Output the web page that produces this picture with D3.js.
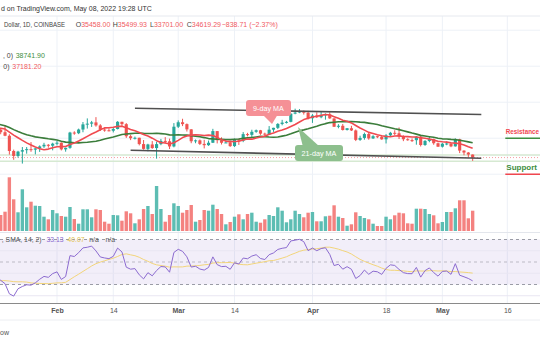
<!DOCTYPE html>
<html><head><meta charset="utf-8">
<script src="https://cdn.jsdelivr.net/npm/d3@7"></script>
<style>html,body{margin:0;padding:0;background:#fff;}svg{display:block;font-family:"Liberation Sans",Arial,sans-serif;}</style>
</head><body><svg id="c" width="540" height="340"></svg>
<script>
// ---------- data ----------
const historyStart = "2021-12-01";
const historyCloses = [57230,56510,53600,49200,49400,50590,50570,50500,47560,47140,49390,50090,46700,48340,48870,47630,46200,46870,46700,46900,48930,48620,50820,50820,50430,50810,50700,47540,46460,47140,46210,
47730,47300,46440,45830,43430,43090,41550,41680,41860,41830,42740,43920,42590,43080,43180,43110,42200];
const candleStart = "2022-01-18";
const opens = [42200,42370,41660,40680,36450,35070,36280,36680,36960,36820,37170,37720,38170,37920,
38480,38740,36900,37330,41570,41380,42410,43840,44040,44390,43550,42400,42200,42070,42550,44560,43900,40550,40000,40120,38370,37030,38260,37260,38360,39250,39150,37710,
43190,44430,43910,42460,39150,39400,38420,38060,38740,41970,39440,38730,38820,37800,39670,39300,41130,40930,41780,42200,41270,41020,42370,42880,43960,44330,44540,46820,47130,47450,47080,
45540,46300,45820,46400,46620,45500,43180,43450,42280,42770,42160,39530,40080,41150,39940,40550,40380,39680,40800,41500,41370,40480,39710,39470,39450,40430,38110,39240,39740,38600,
37640,38470,38530,37730,39700,36550,36020,35458];
const highs = [42690,42560,43500,41100,36830,36500,37550,37540,38920,37230,38000,38720,38360,38740,
39250,38850,37400,41770,41930,42660,44500,45500,44800,45850,43900,43000,42750,42870,44750,44560,44200,40950,40450,40140,39500,38450,39200,39000,39800,40300,39880,44200,
44950,45400,44100,42500,39640,39650,39550,39340,42600,42000,40250,39460,39300,39900,39880,41700,41490,42350,42400,42300,41530,43370,42900,44200,45100,44800,46950,48200,48100,47700,47600,
46700,47200,47440,46880,47200,45500,43900,43960,42800,43430,42420,40690,41550,41500,40850,40700,40600,41130,41760,42200,42980,40800,39990,39950,40600,40800,39470,40380,39900,38800,
38700,39150,38630,39950,39850,36650,36150,35499.93];
const lows = [41250,41100,40550,35440,34010,34600,32950,35700,36230,35510,36200,37300,37360,36630,
38000,36600,36250,37060,40950,41130,41650,42670,43130,43200,42000,41800,41900,41600,42440,43330,40080,39470,39640,38000,36810,36350,37050,34320,38050,38600,37000,37460,
42830,43360,41850,38600,38600,38100,37160,37870,38660,38550,38250,38670,37590,37580,38120,38900,40500,40200,41500,40930,40500,40880,41750,42550,43580,44080,44420,46650,46950,46560,45200,
44250,45620,45550,45150,45380,43140,42750,42130,42130,42000,39200,39250,39580,39570,39780,40020,39560,38540,40570,40830,39770,39180,39300,38950,38200,37700,37870,38880,38180,37600,
37400,38050,37500,37670,35860,35260,34800,33701];
const closes = [42370,41660,40680,36450,35070,36280,36680,36960,36820,37170,37720,38170,37920,38480,
38740,36900,37330,41570,41380,42410,43840,44040,44390,43550,42400,42200,42070,42550,44560,43900,40550,40000,40120,38370,37030,38260,37260,38360,39250,39150,37710,43190,
44430,43910,42460,39150,39400,38420,38060,38740,41970,39440,38730,38820,37800,39670,39300,41130,40930,41780,42200,41270,41020,42370,42880,43960,44330,44540,46820,47130,47450,47080,45540,
46300,45820,46400,46620,45500,43180,43450,42280,42770,42160,39530,40080,41150,39940,40550,40380,39680,40800,41500,41370,40480,39710,39470,39450,40430,38110,39240,39740,38600,37640,
38470,38530,37730,39700,36550,36020,35460,34619.29];
const volumes = [18000,16000,19300,53700,31700,18700,41700,23700,29300,25300,25000,14300,11700,21000,
17700,15000,14300,24000,12000,7300,21700,21700,13700,21700,21000,9300,7300,16000,15700,10300,19700,17700,7700,11700,22000,25000,17000,45000,22000,9300,16000,27700,
25000,18300,21000,26000,9300,11000,21000,20300,26300,22000,17000,6700,9000,14300,16700,11700,17000,18300,9300,8300,11700,16000,15000,23700,20300,8700,11700,20300,17000,13700,18300,
19000,9700,9700,14700,15300,25700,14300,13000,5300,6700,18700,15000,13000,11700,7300,5000,5000,14300,11700,15700,18300,17700,7700,7300,22300,22300,22000,17000,15700,7700,
9000,19000,19000,22700,30700,30700,12700,20300];
const tickDates = ["2022-02-01","2022-02-14","2022-03-01","2022-03-14","2022-04-01","2022-04-18","2022-05-01","2022-05-16"];
const priceGrid = [30000,40000,50000,60000,70000];
const rsiGrid = [20,40,60];
const rsiBands = [70,50,30];
const channelUpper = [["2022-02-19",48300],["2022-05-10",46600]];
const channelLower = [["2022-02-18",36650],["2022-05-10",34420]];
const zoneLevels = [35350,33600];
const resistanceLevel = 40000, supportLevel = 30000;
const maFastLen = 9, maSlowLen = 21, rsiLen = 14, rsiMaLen = 14;

// ---------- scales ----------
const parse = d3.utcParse("%Y-%m-%d");
const svg = d3.select("#c");
const W = 540;
const x = d3.scaleUtc().domain([parse("2022-01-19"), parse("2022-05-16")]).range([0.7, 507.3]);
const y = d3.scaleLinear().domain([30000, 70000]).range([174.2, 30.2]);
const yVol = d3.scaleLinear().domain([0, 60000]).range([231, 171]);
const yRsi = d3.scaleLinear().domain([30, 70]).range([284.5, 239.5]);
const dayW = x(parse("2022-01-20")) - x(parse("2022-01-19"));

const t0 = parse(candleStart);
const dates = closes.map((_, i) => d3.utcDay.offset(t0, i));
const histDates = historyCloses.map((_, i) => d3.utcDay.offset(parse(historyStart), i));
const allDates = histDates.concat(dates);
const allCloses = historyCloses.concat(closes);

function sma(arr, n) {
  return arr.map((v, i) => {
    if (i < n - 1) return null;
    const s = arr.slice(i - n + 1, i + 1);
    if (s.some(a => a == null)) return null;
    return d3.mean(s);
  });
}
function rsi(arr, n) {
  const out = arr.map(() => null);
  let g = 0, l = 0;
  for (let i = 1; i <= n; i++) { const d = arr[i] - arr[i - 1]; if (d > 0) g += d; else l -= d; }
  g /= n; l /= n; out[n] = 100 - 100 / (1 + g / l);
  for (let i = n + 1; i < arr.length; i++) {
    const d = arr[i] - arr[i - 1];
    g = (g * (n - 1) + Math.max(d, 0)) / n; l = (l * (n - 1) + Math.max(-d, 0)) / n;
    out[i] = l === 0 ? 100 : 100 - 100 / (1 + g / l);
  }
  return out;
}
const maFast = sma(allCloses, maFastLen);
const maSlow = sma(allCloses, maSlowLen);
const rsiV = rsi(allCloses, rsiLen);
const rsiMa = sma(rsiV, rsiMaLen);
const firstVis = histDates.length - 2;
const visIdx = d3.range(firstVis, allDates.length);

// ---------- backdrop ----------
svg.append("rect").attr("width", W).attr("height", 340).attr("fill", "#fff");
svg.append("g").selectAll("line").data(tickDates).join("line")
  .attr("x1", d => x(parse(d))).attr("x2", d => x(parse(d)))
  .attr("y1", 16).attr("y2", 303).attr("stroke", "#edf1f7").attr("stroke-width", 1);
svg.append("g").selectAll("line").data(priceGrid).join("line")
  .attr("x1", 0).attr("x2", W).attr("y1", d => y(d)).attr("y2", d => y(d))
  .attr("stroke", "#edf1f7");
svg.append("line").attr("x1", 0).attr("x2", W).attr("y1", 16).attr("y2", 16).attr("stroke", "#e6e9ef");

// RSI panel
svg.append("rect").attr("x", 0).attr("width", W).attr("y", yRsi(70)).attr("height", yRsi(30) - yRsi(70))
  .attr("fill", "rgba(126,87,194,0.1)");
svg.append("g").selectAll("line").data(rsiGrid).join("line")
  .attr("x1", 0).attr("x2", W).attr("y1", d => yRsi(d)).attr("y2", d => yRsi(d)).attr("stroke", "#e9e6f2");
svg.append("line").attr("x1", 0).attr("x2", W).attr("y1", 232.5).attr("y2", 232.5).attr("stroke", "#e3e6ec");
svg.append("g").selectAll("line").data(rsiBands).join("line")
  .attr("x1", 0).attr("x2", W).attr("y1", d => yRsi(d)).attr("y2", d => yRsi(d))
  .attr("stroke", d => d === 50 ? "rgba(120,123,134,0.45)" : "#9a9ca6").attr("stroke-dasharray", "3,3");

// zone lines and current price line
svg.append("g").selectAll("line").data(zoneLevels).join("line")
  .attr("x1", 0).attr("x2", W).attr("y1", d => y(d)).attr("y2", d => y(d))
  .attr("stroke", "#d6e9d2").attr("stroke-width", 1.5);
svg.append("line").attr("x1", 0).attr("x2", W).attr("y1", y(closes[closes.length - 1])).attr("y2", y(closes[closes.length - 1]))
  .attr("stroke", "#f59ea3").attr("stroke-dasharray", "1,2");

// ---------- volume ----------
const up = i => closes[i] >= opens[i];
const bw = dayW * 0.78;
svg.append("g").selectAll("rect").data(dates).join("rect")
  .attr("x", d => x(d) - bw / 2).attr("width", bw)
  .attr("y", (d, i) => yVol(volumes[i])).attr("height", (d, i) => yVol(0) - yVol(volumes[i]))
  .attr("fill", (d, i) => up(i) ? "#5dbdb3" : "#f48280");

// ---------- candles ----------
const cg = svg.append("g");
cg.selectAll("line").data(dates).join("line")
  .attr("x1", d => x(d)).attr("x2", d => x(d))
  .attr("y1", (d, i) => y(highs[i])).attr("y2", (d, i) => y(lows[i]))
  .attr("stroke", (d, i) => up(i) ? "#26a69a" : "#ef5350").attr("stroke-width", 1);
const cw = dayW * 0.72;
cg.selectAll("rect").data(dates).join("rect")
  .attr("x", d => x(d) - cw / 2).attr("width", cw)
  .attr("y", (d, i) => y(Math.max(opens[i], closes[i])))
  .attr("height", (d, i) => Math.max(1, Math.abs(y(opens[i]) - y(closes[i]))))
  .attr("fill", (d, i) => up(i) ? "#26a69a" : "#ef5350");

// ---------- moving averages ----------
function drawLine(vals, yS, color, w) {
  const ln = d3.line().defined(i => vals[i] != null).x(i => x(allDates[i])).y(i => yS(vals[i])).curve(d3.curveLinear);
  svg.append("path").attr("d", ln(visIdx)).attr("fill", "none").attr("stroke", color).attr("stroke-width", w)
    .attr("stroke-linejoin", "round");
}
drawLine(maSlow, y, "#3b7d3b", 1.6);
drawLine(maFast, y, "#f04a50", 1.6);

// ---------- channel lines ----------
[channelUpper, channelLower].forEach(c => {
  svg.append("line").attr("x1", x(parse(c[0][0]))).attr("y1", y(c[0][1]))
    .attr("x2", x(parse(c[1][0]))).attr("y2", y(c[1][1]))
    .attr("stroke", "#505050").attr("stroke-width", 1.6);
});

// ---------- MA callouts ----------
function callout(bx, by, bwid, bh, tail, fill, label) {
  const g = svg.append("g");
  g.append("path").attr("d", d3.line()(tail)).attr("fill", fill);
  g.append("rect").attr("x", bx).attr("y", by).attr("width", bwid).attr("height", bh).attr("rx", 3).attr("fill", fill);
  g.append("text").attr("x", bx + bwid / 2).attr("y", by + bh / 2 + 2.5).attr("text-anchor", "middle")
    .attr("fill", "#fff").attr("font-size", 7.2).text(label);
}
callout(246, 100, 45, 16, [[262, 114], [278, 114], [272, 124]], "#f59096", "9-day MA");
callout(295, 145, 48, 16, [[303, 147], [320, 147], [298, 127]], "#8dbf8d", "21-day MA");

// ---------- RSI ----------
drawLine(rsiMa, yRsi, "#f2d57a", 1);
drawLine(rsiV, yRsi, "#8c6bd0", 1);

// ---------- resistance / support ----------
const rx = x(parse("2022-05-16")) - 2;
svg.append("line").attr("x1", rx).attr("x2", W).attr("y1", y(resistanceLevel)).attr("y2", y(resistanceLevel)).attr("stroke", "#3e8e41").attr("stroke-width", 1.5);
svg.append("line").attr("x1", rx).attr("x2", W).attr("y1", y(supportLevel)).attr("y2", y(supportLevel)).attr("stroke", "#f0474f").attr("stroke-width", 1.5);
svg.append("text").attr("x", rx + 0.5).attr("y", y(resistanceLevel) - 4).attr("fill", "#f0474f").attr("font-size", 6.3).attr("font-weight", "bold")
  .text("Resistance");
svg.append("text").attr("x", rx + 1).attr("y", y(supportLevel) - 4).attr("fill", "#3e8e41").attr("font-size", 8).attr("font-weight", "bold").text("Support");

// ---------- time axis ----------
svg.append("rect").attr("x", 0).attr("y", 303).attr("width", W).attr("height", 17).attr("fill", "#fff");
svg.append("line").attr("x1", 0).attr("x2", W).attr("y1", 303.5).attr("y2", 303.5).attr("stroke", "#8a8a8a").attr("stroke-width", 1.2);
svg.append("line").attr("x1", 0).attr("x2", W).attr("y1", 320).attr("y2", 320).attr("stroke", "#eceef2");
const axis = d3.axisBottom(x).tickValues(tickDates.map(parse)).tickSize(0).tickPadding(0)
  .tickFormat(d => d.getUTCDate() === 1 ? d3.utcFormat("%b")(d) : d3.utcFormat("%-d")(d));
const ag = svg.append("g").attr("transform", "translate(0,308.5)").call(axis);
ag.select(".domain").remove();
ag.selectAll("text").attr("font-size", 7).attr("fill", "#555")
  .attr("font-family", "Liberation Sans, Arial, sans-serif")
  .attr("font-weight", d => d.getUTCDate() === 1 ? "bold" : "normal");

// ---------- header texts ----------
const T = (tx, ty, s, col, size, extra) => {
  const t = svg.append("text").attr("x", tx).attr("y", ty).attr("fill", col).attr("font-size", size || 7).text(s);
  if (extra) extra(t);
  return t;
};
T(1, 10.5, "d on TradingView.com, May 08, 2022 19:28 UTC", "#333");
T(4, 26.5, "Dollar, 1D, COINBASE", "#444", 7, t => t.attr("textLength", 61).attr("lengthAdjust", "spacingAndGlyphs"));
const ohlc = [["O", "35458.00", 75.7], ["H", "35499.93", 112.7], ["L", "33701.00", 150], ["C", "34619.29", 186.7]];
ohlc.forEach(o => {
  const t = svg.append("text").attr("x", o[2]).attr("y", 26.5).attr("font-size", 7);
  t.append("tspan").attr("fill", "#444").text(o[0]);
  t.append("tspan").attr("fill", "#f05a5f").text(o[1]);
});
T(221.7, 26.5, "\u2212838.71 (\u22122.37%)", "#f05a5f");
// MA legend
T(13, 57.5, ", 0)", "#444", 7, t => t.attr("text-anchor", "end"));
T(15.7, 57.5, "38741.90", "#3e8e41");
T(9.5, 68.5, "0)", "#444", 7, t => t.attr("text-anchor", "end"));
T(12.3, 68.5, "37181.20", "#f05a5f");
// RSI legend
T(41.5, 242, ", SMA, 14, 2)", "#555", 6.8, t => t.attr("text-anchor", "end"));
T(46.5, 242, "33.13", "#8c6bd0", 6.8);
T(67.5, 242, "40.07", "#e2c24a", 6.8);
T(89.3, 242, "n/a", "#555", 6.8);
T(105.5, 242, "n/a", "#555", 6.8);
// footer
T(0, 334.5, "ow", "#555", 7);
</script></body></html>
